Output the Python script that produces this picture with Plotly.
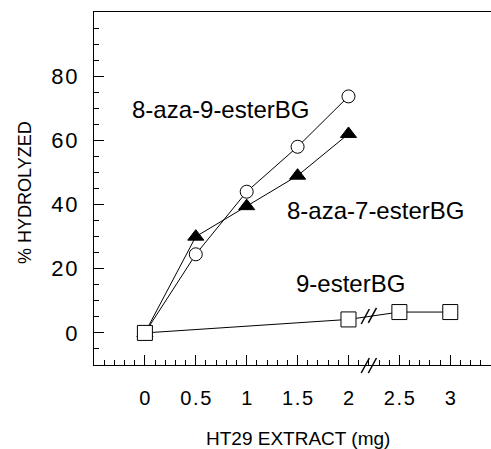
import plotly.graph_objects as go

# ---- data ----
extract_mg = [0, 0.5, 1, 1.5, 2]
aza9_ester = [0, 24.5, 44, 58, 73.7]
aza7_ester = [0, 30, 39.5, 49, 62]
ester9_x = [0, 2, 2.5, 3]
ester9_y = [0, 4.2, 6.5, 6.5]

x_tickvals = [0, 0.5, 1, 1.5, 2, 2.5, 3]
x_ticktext = ["0", "0.5", "1", "1.5", "2", "2.5", "3"]
y_tickvals = [0, 20, 40, 60, 80]
y_ticktext = ["0", "20", "40", "60", "80"]

XR = [-0.5, 3.4]
YR = [-10, 100]

FONT = "Liberation Sans, Arial, sans-serif"
HS = "\u200a"  # hair space to mimic letter spacing


def spaced(s):
    return HS.join(list(s))


fig = go.Figure()

fig.add_trace(go.Scatter(
    x=extract_mg, y=aza9_ester, mode="lines+markers",
    line=dict(color="black", width=1),
    marker=dict(symbol="circle", size=13, color="white", line=dict(color="black", width=1)),
    showlegend=False, cliponaxis=False))

fig.add_trace(go.Scatter(
    x=extract_mg, y=aza7_ester, mode="lines+markers",
    line=dict(color="black", width=1),
    marker=dict(symbol="triangle-up", size=14, color="black", line=dict(color="black", width=1)),
    showlegend=False, cliponaxis=False))

fig.add_trace(go.Scatter(
    x=ester9_x, y=ester9_y, mode="lines+markers",
    line=dict(color="black", width=1),
    marker=dict(symbol="square", size=15, color="white", line=dict(color="black", width=1)),
    showlegend=False, cliponaxis=False))

# axis break marks ("//")
L, T, W, H = 94, 12, 491, 449
B = 84
plot_h = H - T - B
def py(v):  # data y -> paper
    return (v - YR[0]) / (YR[1] - YR[0])

shapes = []
brk_x = [2.165, 2.235]
dx = 0.04
for bx in brk_x:
    # on x axis
    shapes.append(dict(type="line", xref="x", yref="paper",
                       x0=bx - dx, x1=bx + dx, y0=-8 / plot_h, y1=7 / plot_h,
                       line=dict(color="black", width=1.5), layer="above"))
    # on data line
    yl = ester9_y[1] + (ester9_y[2] - ester9_y[1]) * (bx - 2) / 0.5
    shapes.append(dict(type="line", xref="x", yref="paper",
                       x0=bx - dx, x1=bx + dx, y0=py(yl) - 7 / plot_h, y1=py(yl) + 8 / plot_h,
                       line=dict(color="black", width=1.5), layer="above"))

annotations = [
    dict(x=0.74, y=69.5, xref="x", yref="y", text="8-aza-9-esterBG", showarrow=False,
         font=dict(family=FONT, size=24, color="black")),
    dict(x=2.27, y=38, xref="x", yref="y", text="8-aza-7-esterBG", showarrow=False,
         font=dict(family=FONT, size=24, color="black")),
    dict(x=2.02, y=15.5, xref="x", yref="y", text="9-esterBG", showarrow=False,
         font=dict(family=FONT, size=24, color="black")),
    dict(x=(298 - L) / (W - L), y=-(438 - (H - B)) / plot_h, xref="paper", yref="paper",
         xanchor="center", yanchor="middle",
         text="HT29 EXTRACT (mg)", showarrow=False,
         font=dict(family=FONT, size=19, color="black")),
    dict(x=-(L - 25) / (W - L), y=(H - B - 193) / plot_h, xref="paper", yref="paper",
         xanchor="center", yanchor="middle",
         text="% HYDROLYZED", textangle=-90, showarrow=False,
         font=dict(family=FONT, size=18, color="black")),
]

fig.update_layout(
    width=W, height=H,
    margin=dict(l=L, r=0, t=T, b=B, autoexpand=False),
    paper_bgcolor="white", plot_bgcolor="white",
    shapes=shapes, annotations=annotations,
    showlegend=False,
)

fig.update_xaxes(
    range=XR, showgrid=False, zeroline=False, automargin=False,
    showline=True, linecolor="black", linewidth=1, mirror=True,
    ticks="inside", ticklen=10, tickcolor="black", tickwidth=1,
    tickmode="array", tickvals=x_tickvals, ticktext=[spaced(t) for t in x_ticktext],
    tickfont=dict(family=FONT, size=20, color="black"),
    ticklabelstandoff=15,
    minor=dict(ticks="inside", ticklen=5, tickcolor="black", tickwidth=1,
               tickmode="linear", tick0=0, dtick=0.1, showgrid=False),
)

fig.update_yaxes(
    range=YR, showgrid=False, zeroline=False, automargin=False,
    showline=True, linecolor="black", linewidth=1,
    ticks="inside", ticklen=10, tickcolor="black", tickwidth=1,
    tickmode="array", tickvals=y_tickvals, ticktext=[spaced(t) for t in y_ticktext],
    tickfont=dict(family=FONT, size=22, color="black"),
    ticklabelstandoff=11,
    minor=dict(ticks="inside", ticklen=5, tickcolor="black", tickwidth=1,
               tickmode="linear", tick0=0, dtick=5, showgrid=False),
)

fig.write_html("out.html", config={"displayModeBar": False},
               post_script="document.body.style.margin='0';document.body.style.padding='0';")
